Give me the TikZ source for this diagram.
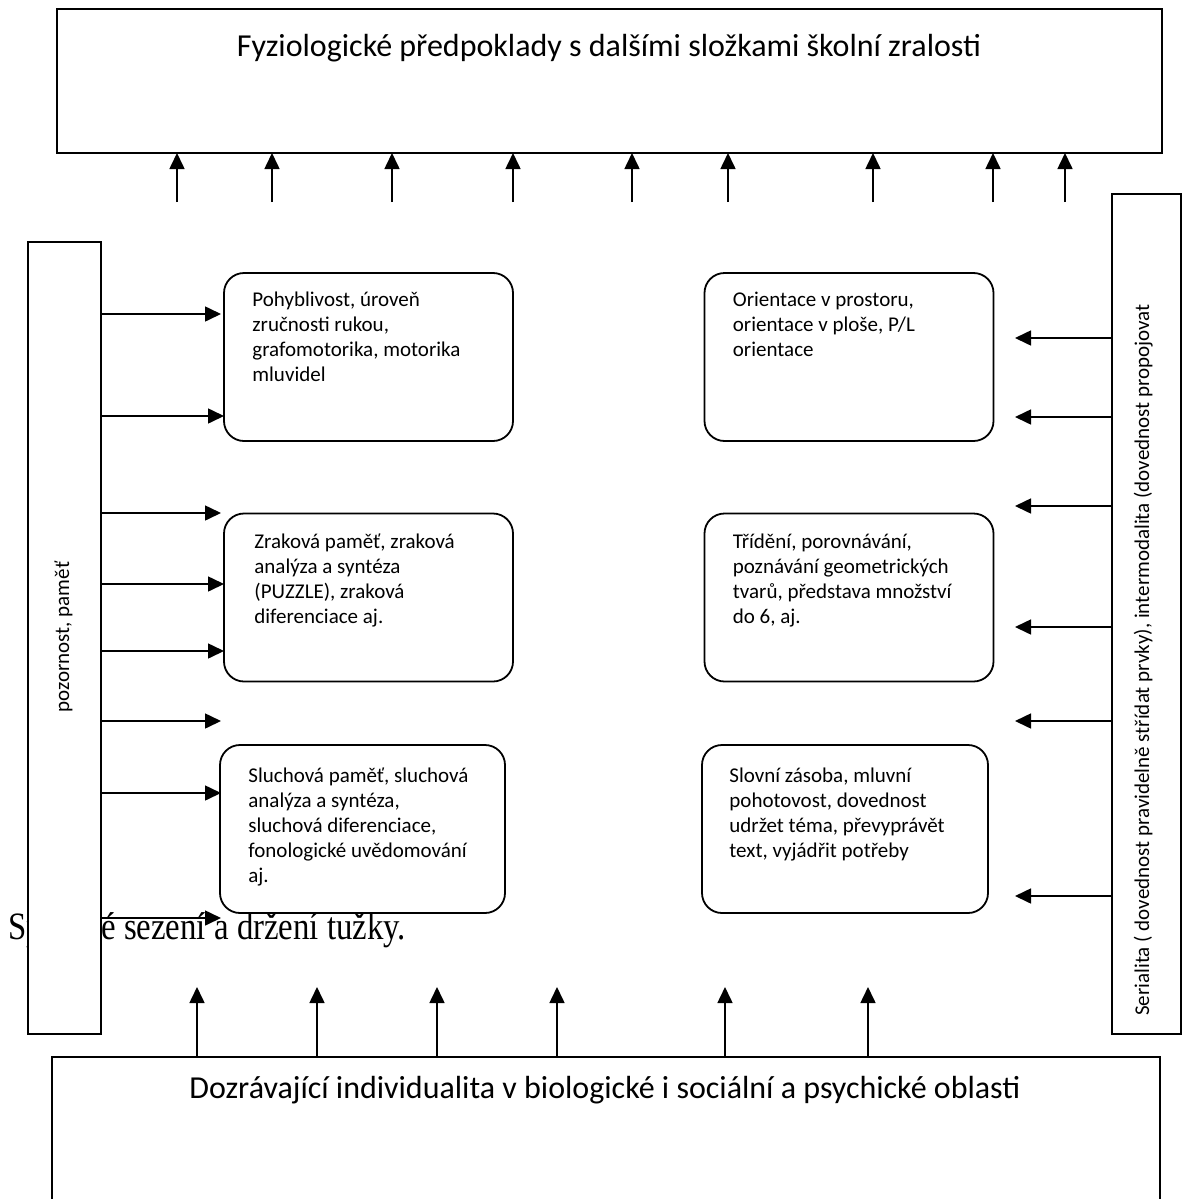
\documentclass[tikz,border=0pt]{standalone}
\usepackage{fontspec}
\setmainfont{Carlito}
\newfontfamily\timesfont{Liberation Serif}
\usetikzlibrary{arrows.meta}

\begin{document}
\begin{tikzpicture}[
    x=0.5pt, y=-0.5pt,
    sipka/.style={line width=0.8pt, -{Triangle[length=8pt,width=7.5pt]}},
    ramec/.style={draw, line width=0.9pt, fill=white, inner sep=0pt, outer sep=0pt},
    blok/.style={ramec, rounded corners=10pt, minimum width=144.5pt, minimum height=84pt},
    popis/.style={anchor=north west, inner sep=0pt, align=left, font=\fontsize{10.5}{12.5}\selectfont},
    nadpis/.style={anchor=base, inner sep=0pt, font=\fontsize{16}{19}\selectfont},
    svisle/.style={rotate=90, anchor=base, inner sep=0pt, font=\fontsize{10.5}{12.5}\selectfont}
  ]
  \useasboundingbox (0,0) rectangle (1185,1199);

  \node[anchor=base west, inner sep=0pt, font=\timesfont\fontsize{16.4}{19}\selectfont] (sezeni) at (8,939) {\scalebox{1}[1.18]{Správné sezení a držení tužky.}};

  \node[ramec, minimum width=552.5pt, minimum height=72pt] (horni) at (609.5,81) {};
  \node[nadpis] (thorni) at (609,56) {Fyziologické předpoklady s dalšími složkami školní zralosti};

  \node[ramec, minimum width=554pt, minimum height=91.5pt] (dolni) at (606,1148.5) {};
  \node[nadpis] (tdolni) at (605,1098) {Dozrávající individualita v biologické i sociální a psychické oblasti};

  \node[ramec, minimum width=36.5pt, minimum height=396pt] (levy) at (64.5,638) {};
  \node[svisle] (tlevy) at (69,637) {pozornost, paměť};

  \node[ramec, minimum width=34.5pt, minimum height=420pt] (pravy) at (1146.5,614) {};
  \node[svisle] (tpravy) at (1149,660) {Serialita ( dovednost pravidelně střídat prvky), intermodalita (dovednost propojovat};

  \node[blok] (b1) at (368.5,357) {};
  \node[blok] (b2) at (368.5,597.5) {};
  \node[blok, minimum width=142.5pt] (b3) at (362.5,829) {};
  \node[blok] (b4) at (849,357) {};
  \node[blok] (b5) at (849,597.5) {};
  \node[blok, minimum width=143pt] (b6) at (845,829) {};

  \node[popis] (t1) at ([shift={(28,19)}]b1.north west) {Pohyblivost, úroveň\\zručnosti rukou,\\grafomotorika, motorika\\mluvidel};
  \node[popis] (t2) at ([shift={(30,20)}]b2.north west) {Zraková paměť, zraková\\analýza a syntéza\\(PUZZLE), zraková\\diferenciace aj.};
  \node[popis] (t3) at ([shift={(28,22)}]b3.north west) {Sluchová paměť, sluchová\\analýza a syntéza,\\sluchová diferenciace,\\fonologické uvědomování\\aj.};
  \node[popis] (t4) at ([shift={(28,19)}]b4.north west) {Orientace v prostoru,\\orientace v ploše, P/L\\orientace};
  \node[popis] (t5) at ([shift={(28,20)}]b5.north west) {Třídění, porovnávání,\\poznávání geometrických\\tvarů, představa množství\\do 6, aj.};
  \node[popis] (t6) at ([shift={(27,23)}]b6.north west) {Slovní zásoba, mluvní\\pohotovost, dovednost\\udržet téma, převyprávět\\text, vyjádřit potřeby};

  \coordinate (patka) at (0,202);
  \coordinate (spicka) at (0,987);
  \coordinate (hrotL) at (221,0);
  \coordinate (hrotP) at (1015,0);

  \foreach \x in {177,272,392,513,632,728,873,993,1065}
    \draw[sipka] (patka -| \x,0) -- (horni.south -| \x,0);

  \foreach \x in {197,317,437,557,725,868}
    \draw[sipka] (dolni.north -| \x,0) -- (spicka -| \x,0);

  \foreach \y/\cil in {314/hrotL,416/b1.west,513/hrotL,584/b2.west,651/b2.west,721/hrotL,793/hrotL,918/hrotL}
    \draw[sipka] (levy.east |- 0,\y) -- (\cil |- 0,\y);

  \foreach \y in {338,417,506,627,721,896}
    \draw[sipka] (pravy.west |- 0,\y) -- (hrotP |- 0,\y);
\end{tikzpicture}
\end{document}
